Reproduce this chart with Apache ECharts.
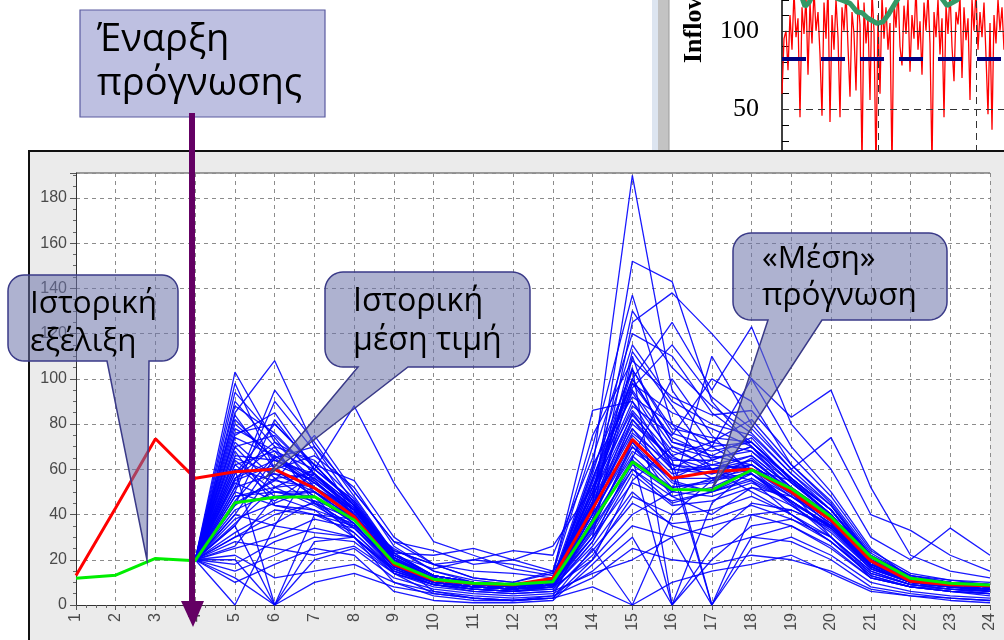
<!DOCTYPE html>
<html><head><meta charset="utf-8">
<style>html,body{margin:0;padding:0;background:#fff;}#c{width:1004px;height:640px;}</style>
<script src="https://cdn.jsdelivr.net/npm/echarts@6/dist/echarts.min.js"></script>
</head><body><div id="c"></div>
<script>
// ---------- main chart data ----------
const steps = [1,2,3,4,5,6,7,8,9,10,11,12,13,14,15,16,17,18,19,20,21,22,23,24];
const forecastSteps = [4,5,6,7,8,9,10,11,12,13,14,15,16,17,18,19,20,21,22,23,24];
const historicalMean = [13,43,73.5,56,58.9,60,51.7,39,18,11,9.5,9,11.8,42.5,73.2,56,58.9,60,50,37.5,19.5,10.5,9,8.5];
const meanForecast   = [11.8,13.2,20.6,19.6,45.2,47.6,47.9,37.6,18.7,11.4,9.6,9.2,10.3,36.8,63.3,51.1,50.8,59.7,51.5,39,21.4,11.8,9.6,8.8];
const yTicks = [0,20,40,60,80,100,120,140,160,180];
const ensemble = [
 [20,103,72,55,40,20,12,9,8,10,60,190,95,70,60,45,30,15,9,7,6],
 [20,98,60,48,30,15,10,8,7,12,45,152,143,90,70,50,35,18,10,8,7],
 [20,85,108,70,45,22,16,20,18,14,70,137,80,60,55,40,28,14,9,8,7],
 [20,0,35,62,55,30,18,12,10,15,40,125,138,120,100,70,50,25,12,10,9],
 [20,60,0,40,38,25,15,10,8,9,30,110,60,0,30,35,25,12,8,7,6],
 [20,75,85,60,88,54,28,22,16,13,50,100,125,95,123,80,60,30,20,34,22],
 [20,45,55,75,50,28,18,12,10,14,86,90,60,70,100,83,95,52,22,15,12],
 [20,30,40,45,35,20,12,9,7,8,20,40,50,110,80,60,74,40,33,22,15],
 [20,80,65,52,42,20,6,3,2,3,25,0,40,55,65,50,30,12,8,6,5],
 [20,50,90,68,40,18,10,7,6,8,55,105,0,45,60,55,40,20,10,8,6],
 [20,65,58,50,38,18,11,9,8,10,45,80,65,60,62,50,38,20,12,9,8],
 [20,55,62,55,40,14,5,3,2,4,38,75,58,62,60,48,36,18,11,9,8],
 [20,42,50,48,36,17,10,8,7,9,35,70,52,55,58,45,35,17,10,8,7],
 [20,70,75,58,42,21,13,10,9,11,50,95,70,65,68,52,40,20,12,10,9],
 [20,38,45,52,40,19,11,9,8,10,42,85,62,58,64,50,37,19,11,9,8],
 [20,25,30,38,34,18,10,8,7,8,30,60,45,50,55,46,34,16,10,8,6],
 [20,15,22,30,28,14,9,7,6,7,22,48,40,42,48,40,30,14,9,7,5],
 [20,10,18,25,22,6,2,1,1,2,18,35,30,35,40,35,26,12,8,6,4],
 [20,35,0,20,25,12,7,5,4,5,15,30,0,25,30,28,20,8,5,3,2],
 [20,90,70,45,32,16,9,7,6,8,28,65,100,75,58,44,32,16,10,8,7],
 [20,58,80,62,44,24,18,20,24,22,65,120,110,85,72,55,42,22,13,10,9],
 [20,48,52,60,46,22,13,10,8,10,48,88,75,100,90,62,45,22,12,10,8],
 [20,62,48,42,30,10,4,2,2,3,20,55,70,60,50,40,28,13,8,6,5],
 [20,78,68,50,36,17,10,8,7,9,40,98,85,78,70,56,42,20,11,9,8],
 [20,52,95,72,48,23,13,10,9,11,58,115,90,80,75,58,44,21,12,10,9],
 [20,40,35,32,30,16,10,8,7,8,26,50,35,30,45,42,35,18,11,9,7],
 [20,68,44,40,35,18,11,9,8,9,33,72,48,40,52,48,38,19,11,9,8],
 [20,22,12,15,18,10,6,4,3,4,12,25,20,18,22,20,15,7,4,3,2],
 [20,12,0,10,14,8,5,3,2,3,8,0,10,15,18,22,14,6,4,2,1],
 [20,46,66,56,43,21,12,9,8,10,52,100,72,66,74,55,40,20,12,10,8],
 [20,72,56,45,38,19,12,9,8,10,44,78,55,50,60,50,38,18,11,9,8],
 [20,35,60,66,52,26,15,11,9,12,62,92,80,72,82,62,46,23,13,11,9],
 [20,28,25,22,26,14,9,7,6,8,35,65,0,20,35,38,30,15,9,7,6],
 [20,88,76,58,40,19,11,9,8,10,48,130,105,88,76,58,42,20,12,10,9],
 [20,56,70,64,47,23,22,25,20,15,75,108,92,84,86,66,48,24,14,11,10],
 [20,32,42,40,32,15,9,7,6,7,28,58,44,46,52,44,33,16,10,8,6],
 [20,18,28,34,30,14,8,6,5,6,24,45,36,38,44,38,28,13,8,6,5],
 [20,64,50,46,34,17,10,8,7,9,38,82,64,0,40,42,34,17,10,8,7],
 [20,44,82,60,45,22,13,10,9,11,56,96,115,92,78,60,44,22,13,10,9],
 [20,82,64,54,42,24,18,15,14,12,46,104,78,74,72,56,42,21,12,10,8],
 [20,54,46,58,44,20,12,9,8,10,36,68,56,64,70,54,40,20,12,9,8],
 [20,26,48,50,38,18,11,8,7,9,32,62,50,56,62,50,37,18,11,9,7],
 [20,94,74,52,38,18,10,8,7,9,42,112,88,64,58,46,34,17,10,8,7],
 [20,40,65,70,50,28,24,18,20,26,52,86,66,72,68,54,40,20,12,10,8],
 [20,20,0,28,30,15,9,6,5,6,14,20,30,0,25,30,22,10,6,4,3],
 [20,60,55,52,41,19,11,9,8,10,46,82,60,58,62,50,38,19,11,9,8],
 [20,66,64,57,43,21,12,9,8,10,50,90,68,62,66,52,39,19,11,9,8],
 [20,52,58,56,42,20,12,9,8,10,44,76,62,60,64,51,38,19,11,9,8],
 [20,74,66,54,40,19,11,9,8,10,54,98,74,66,62,50,37,18,11,9,8],
 [20,48,50,50,40,19,11,9,8,10,40,70,56,56,60,49,37,18,11,9,8],
 [20,58,72,62,44,21,12,9,8,10,48,84,64,64,70,54,40,20,12,9,8],
 [20,36,52,54,42,20,12,9,8,10,36,64,52,54,62,50,38,19,11,9,8],
 [20,84,60,48,36,17,10,8,7,9,52,94,66,56,58,46,34,17,10,8,7],
 [20,62,68,60,46,23,13,10,9,11,60,104,76,70,72,56,42,21,12,10,9],
 [20,44,56,58,44,21,12,9,8,10,34,60,48,52,60,50,38,19,11,9,8],
 [20,70,52,44,34,16,10,8,7,9,40,72,54,50,56,46,35,17,10,8,7],
 [20,30,36,46,40,19,11,9,8,10,30,54,46,50,58,48,36,18,11,9,8],
 [20,56,64,58,42,20,12,9,8,10,44,78,60,60,66,52,38,19,11,9,8],
 [20,76,80,62,44,22,13,10,9,11,56,100,72,68,72,56,42,21,12,10,9],
 [20,50,44,42,36,17,10,8,7,9,38,66,50,48,54,46,35,17,10,8,7]
];

// ---------- inset (top-right) data ----------
const dailyInflow = [60,95,100,75,110,88,125,96,108,45,115,98,122,72,118,92,126,100,112,85,
 46,118,95,128,42,110,88,120,96,45,115,100,124,90,58,112,98,62,120,104,
 15,118,92,108,56,125,100,10,110,60,122,95,115,88,105,12,118,102,126,90,
 78,116,98,120,74,110,95,128,88,106,72,118,100,124,92,14,112,96,120,85,
 108,45,116,98,125,90,68,112,104,122,70,115,94,108,56,120,100,126,88,112,
 96,118,84,47,105,37,110,92,120,100,115,88,118,95,110];
const inflowMean = 82;
const forecastFlowX = [0,6,10,11.5,13.5,16,20,27,31,34,37.5,40,43,47.5,50.5,53,57.5,62,70,78,82.5,87.5,92,100,114];
const forecastFlowY = [140,130,121,115.5,118,124,126,121,119,117.5,112,111.5,108,104.7,105.7,110,119.5,127,134,124,116,119.5,128,135,130];
const insetGridX = [48,97];
const insetGridY = [50,100];

// ---------- layout ----------
const P = {l:76, t:173, r:990, b:605};
const chart = echarts.init(document.getElementById('c'), null, {renderer:'canvas'});

function fitFont(text, target, family){
  const ctx = document.createElement('canvas').getContext('2d');
  ctx.font = '100px "' + family + '"';
  return 100 * target / ctx.measureText(text).width;
}
function calloutPts(x0,y0,x1,y1,r,tail){
  const pts=[]; const N=10;
  function arc(cx,cy,a0,a1){ for(let k=0;k<=N;k++){const a=a0+(a1-a0)*k/N; pts.push([cx+r*Math.cos(a), cy+r*Math.sin(a)]);} }
  arc(x0+r,y0+r,Math.PI,1.5*Math.PI);
  arc(x1-r,y0+r,1.5*Math.PI,2*Math.PI);
  arc(x1-r,y1-r,0,0.5*Math.PI);
  if(tail){ pts.push([tail[1],y1],[tail[2],tail[3]],[tail[0],y1]); }
  arc(x0+r,y1-r,0.5*Math.PI,Math.PI);
  return pts;
}
const FAM = 'Open Sans';
function textLines(x, lines, baselines, size){
  return lines.map((t,i)=>({type:'text', z:21, silent:true, x:x, y:baselines[i]-0.36*size,
    style:{text:t, font: size.toFixed(1)+'px "'+FAM+'"', fill:'#000', textAlign:'left', textVerticalAlign:'middle'}}));
}
const sA = fitFont('Ιστορική', 127, FAM);
const sB = fitFont('μέση τιμή', 149, FAM);
const sC = fitFont('πρόγνωση', 155, FAM);
const sD = fitFont('πρόγνωσης', 205, FAM);
const cFill = 'rgba(108,114,170,0.55)', cStroke = '#3a3a88';

const graphics = [
  // inset left strip
  {type:'rect', z:5, silent:true, shape:{x:652, y:0, width:6, height:150}, style:{fill:'#dde5f0'}},
  {type:'rect', z:5, silent:true, shape:{x:658, y:0, width:11, height:150}, style:{fill:'#c3c3c3'}},
  {type:'line', z:5, silent:true, shape:{x1:669, y1:0, x2:669, y2:150}, style:{stroke:'#9a9a9a', lineWidth:1}},
  {type:'text', z:5, silent:true, x:694, y:63, rotation:Math.PI/2,
    style:{text:'Inflow', font:'bold 26px "Liberation Serif"', fill:'#000', textAlign:'left', textVerticalAlign:'middle'}},
  // main panel
  {type:'rect', z:10, silent:true, shape:{x:29, y:151, width:1000, height:520}, style:{fill:'#ebebeb', stroke:'#111', lineWidth:2}},
  {type:'rect', z:11, silent:true, shape:{x:P.l, y:P.t, width:P.r-P.l, height:P.b-P.t}, style:{fill:'#fff'}},
  {type:'line', z:12, silent:true, shape:{x1:P.l, y1:P.t, x2:P.r, y2:P.t}, style:{stroke:'#444', lineWidth:1.2}},
  // callouts
  {type:'polygon', z:20, silent:true, shape:{points:calloutPts(8,275,178,361,16,[107,149,147,560])}, style:{fill:cFill, stroke:cStroke, lineWidth:1.5}},
  {type:'polygon', z:20, silent:true, shape:{points:calloutPts(325,272,530,367,18,[358,408,266,477])}, style:{fill:cFill, stroke:cStroke, lineWidth:1.5}},
  {type:'polygon', z:20, silent:true, shape:{points:calloutPts(733,233,947,320,18,[768,822,713,487])}, style:{fill:cFill, stroke:cStroke, lineWidth:1.5}},
  {type:'rect', z:20, silent:true, shape:{x:80, y:10, width:245, height:107}, style:{fill:'rgba(125,130,195,0.5)', stroke:'#5a5aa0', lineWidth:1.2}},
  ...textLines(30, ['Ιστορική','εξέλιξη'], [315,353], sA),
  ...textLines(353, ['Ιστορική','μέση τιμή'], [313,352], sB),
  ...textLines(762, ['«Μέση»','πρόγνωση'], [270,307], sC),
  ...textLines(97, ['Έναρξη','πρόγνωσης'], [54,98], sD),
  // arrow
  {type:'line', z:22, silent:true, shape:{x1:192, y1:113, x2:192, y2:603}, style:{stroke:'#640064', lineWidth:6}},
  {type:'polygon', z:22, silent:true, shape:{points:[[181,601],[204,601],[193,627]]}, style:{fill:'#640064'}}
];

const series = [];
ensemble.forEach(tr => series.push({type:'line', xAxisIndex:0, yAxisIndex:0, z:13, silent:true, symbol:'none',
  data: tr.map((v,i)=>[forecastSteps[i], v]), lineStyle:{color:'#0000ff', width:1.3, opacity:0.9}}));
series.push({type:'line', xAxisIndex:0, yAxisIndex:0, z:14, silent:true, symbol:'none',
  data: historicalMean.map((v,i)=>[steps[i], v]), lineStyle:{color:'#ff0000', width:3}});
series.push({type:'line', xAxisIndex:0, yAxisIndex:0, z:15, silent:true, symbol:'none',
  data: meanForecast.map((v,i)=>[steps[i], v]), lineStyle:{color:'#00ee00', width:3}});
// inset
series.push({type:'line', xAxisIndex:1, yAxisIndex:1, z:2, silent:true, symbol:'none',
  data: dailyInflow.map((v,i)=>[i, v]), lineStyle:{color:'#ff0000', width:1.3},
  markLine:{silent:true, symbol:'none', label:{show:false}, animation:false,
    lineStyle:{color:'#333', type:[7,5], width:1},
    data: insetGridY.map(v=>({yAxis:v})).concat(insetGridX.map(v=>({xAxis:v})))}});
series.push({type:'line', xAxisIndex:1, yAxisIndex:1, z:3, silent:true, symbol:'none',
  data: [[0,inflowMean],[111,inflowMean]], lineStyle:{color:'#000080', width:4, type:[24,15]}});
series.push({type:'line', xAxisIndex:1, yAxisIndex:1, z:4, silent:true, symbol:'none',
  data: forecastFlowX.map((x,i)=>[x, forecastFlowY[i]]), lineStyle:{color:'#339966', width:5}});

const labelFont = {fontFamily:'Liberation Sans', fontSize:16, color:'#4a4a4a'};
chart.setOption({
  animation:false,
  backgroundColor:'#fff',
  grid:[
    {left:P.l, top:P.t, width:P.r-P.l, height:P.b-P.t, show:false},
    {left:782, top:0, width:222, height:188, show:false}
  ],
  xAxis:[
    {type:'value', gridIndex:0, min:1, max:24, interval:1, z:12,
     axisLine:{lineStyle:{color:'#333'}},
     axisTick:{length:5, lineStyle:{color:'#555'}},
     minorTick:{show:true, splitNumber:4, length:3, lineStyle:{color:'#666'}},
     axisLabel:Object.assign({rotate:90, margin:8}, labelFont),
     splitLine:{show:true, lineStyle:{color:'#8c8c8c', type:[4,4], width:1}}},
    {type:'value', gridIndex:1, min:0, max:111, show:false}
  ],
  yAxis:[
    {type:'value', gridIndex:0, min:0, max:191, interval:20, z:12,
     axisLine:{show:true, lineStyle:{color:'#333'}},
     axisTick:{show:true, length:6, lineStyle:{color:'#555'}},
     minorTick:{show:true, splitNumber:4, length:3, lineStyle:{color:'#666'}},
     axisLabel:Object.assign({margin:9, formatter:v=> yTicks.indexOf(v)>=0 ? String(v) : ''}, labelFont),
     splitLine:{show:true, lineStyle:{color:'#8c8c8c', type:[4,4], width:1}}},
    {type:'value', gridIndex:1, min:0, max:119.6, interval:10,
     axisLine:{show:true, lineStyle:{color:'#000', width:1.5}},
     axisTick:{show:true, inside:true, length:7, lineStyle:{color:'#000'}},
     axisLabel:{margin:23, fontFamily:'Liberation Serif', fontSize:26, color:'#000', formatter:v=> insetGridY.indexOf(v)>=0 ? String(v) : ''},
     splitLine:{show:false}}
  ],
  graphic:{elements:graphics},
  series:series
});
</script>
</body></html>
